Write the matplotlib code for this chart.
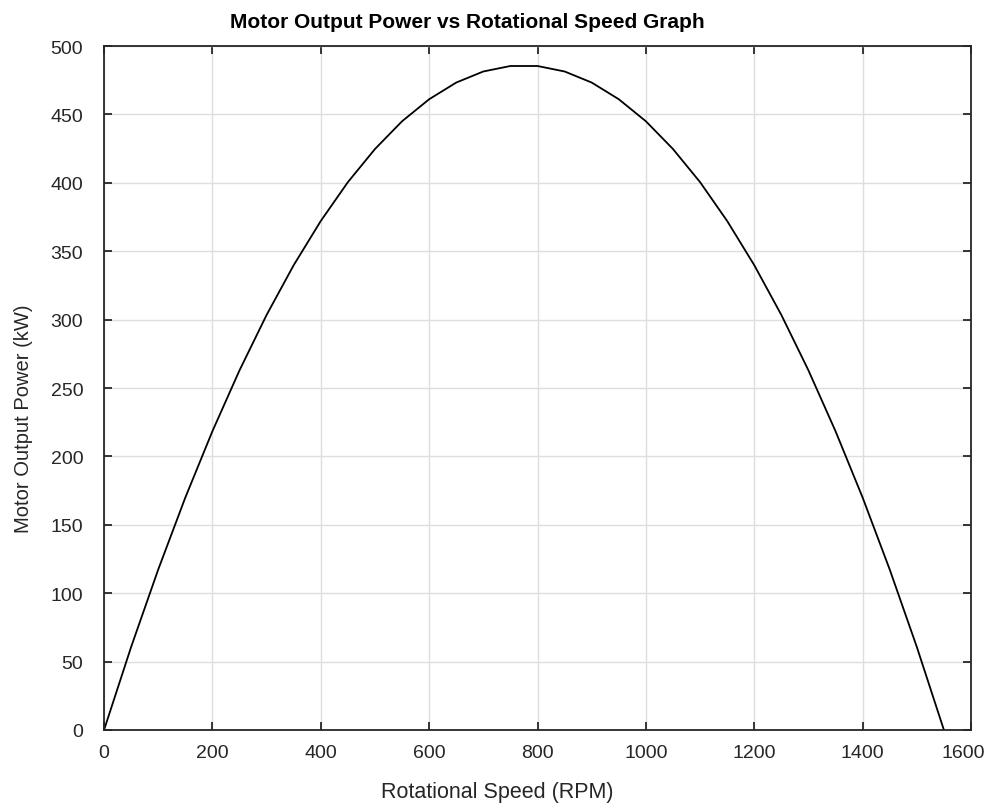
import matplotlib
matplotlib.use('Agg')
import matplotlib.pyplot as plt
from matplotlib.transforms import ScaledTranslation

plt.rcParams['font.family'] = ['Liberation Sans', 'DejaVu Sans']

# speed (RPM) and output power (kW), every 50 RPM
speed = [0, 50, 100, 150, 200, 250, 300, 350, 400, 450, 500, 550, 600, 650, 700, 750,
         800, 850, 900, 950, 1000, 1050, 1100, 1150, 1200, 1250, 1300, 1350, 1400, 1450,
         1500, 1550]
power = [0, 60.7, 117.3, 169.9, 218.4, 262.9, 303.4, 339.8, 372.1, 400.5, 424.7, 445.0,
         461.1, 473.3, 481.4, 485.4, 485.4, 481.4, 473.3, 461.1, 445.0, 424.7, 400.5,
         372.1, 339.8, 303.4, 262.9, 218.4, 169.9, 117.3, 60.7, 0]

xticks = list(range(0, 1601, 200))
yticks = list(range(0, 501, 50))

fig = plt.figure(figsize=(9.87, 8.04), dpi=100)
ax = fig.add_axes([0.1054, 0.0908, 0.8784, 0.8507])

ax.plot(speed, power, color='black', linewidth=1.3)

ax.set_xlim(0, 1600)
ax.set_ylim(0, 500)
ax.set_xticks(xticks)
ax.set_yticks(yticks)
ax.grid(True, color='#dedede', linewidth=1.0)
ax.set_axisbelow(True)

for s in ax.spines.values():
    s.set_linewidth(1.3)
    s.set_color('#262626')
ax.tick_params(direction='in', length=6, width=1.3, color='#262626',
               top=True, right=True, labelsize=14, labelcolor='#262626')
ax.tick_params(axis='x', pad=10)
ax.tick_params(axis='y', pad=15)

# nudge the last x label so it stays inside the figure
last = ax.get_xticklabels()[-1]
last.set_transform(last.get_transform() + ScaledTranslation(-8 / 100, 0, fig.dpi_scale_trans))

ax.set_title('Motor Output Power vs Rotational Speed Graph', fontsize=15,
             fontweight='bold', x=0.419, pad=14)
ax.set_xlabel('Rotational Speed (RPM)', fontsize=15.5, color='#262626')
ax.xaxis.set_label_coords(0.454, -0.074)
ax.set_ylabel('Motor Output Power (kW)', fontsize=14.5, color='#262626')
ax.yaxis.set_label_coords(-0.082, 0.456)

fig.savefig('out.png', dpi=100)
